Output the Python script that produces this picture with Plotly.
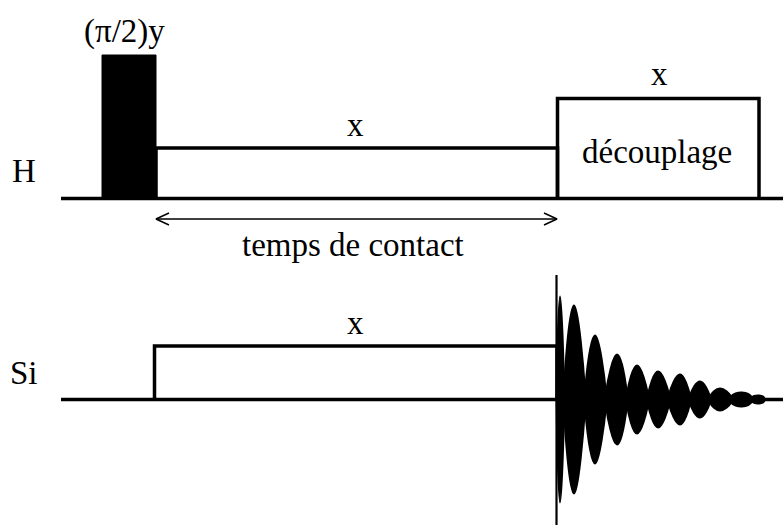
import plotly.graph_objects as go

# ---- diagram data (time axis and amplitude in drawing units) ----
channel_names = ["H", "Si"]
channel_baseline = [198.5, 399.5]
channel_label_x = [24, 24]
channel_label_y = [171, 373]
axis_start = 61
axis_end = 783

# H channel: pi/2 pulse, contact (spin-lock) pulse, decoupling
h_pulse_start = [102, 156, 557.5]
h_pulse_end = [156, 557.5, 759]
h_pulse_top = [55, 148, 98.5]
h_pulse_filled = [True, False, False]
h_pulse_labels = ["(π/2)y", "x", "x"]
h_label_x = [124, 355.5, 659.5]
h_label_y = [31, 124.5, 73.5]
decoupling_text = "découplage"
decoupling_text_xy = [657, 152]

# Si channel: contact pulse then acquisition (FID)
si_pulse_start = [154.5]
si_pulse_end = [557]
si_pulse_top = [346]
si_pulse_labels = ["x"]
si_label_x = [355]
si_label_y = [322.5]

# contact-time arrow
arrow_start = 156
arrow_end = 557
arrow_y = 219
arrow_text = "temps de contact"
arrow_text_xy = [353, 245]

# FID: initial spike and lobe envelope (centre, amplitude), waists between lobes
fid_spike_x = 556.5
fid_spike_top = 275
fid_spike_bottom = 525
fid_lobe_center = [560, 574, 595, 617, 637, 658, 680, 700, 720, 742, 759]
fid_lobe_amp = [103, 94, 64, 45, 34, 28, 25, 18, 11, 7, 4]
fid_waist = [557, 564, 585, 606, 627, 648, 669, 690, 710, 731, 752, 764]
fid_waist_amp = [30, 12, 9, 7, 6, 5, 5, 4, 3, 3, 2, 2]

BLACK = "#000000"
FONT = dict(family="Liberation Serif, Times New Roman, serif", size=33, color=BLACK)
LW = 3.5

fig = go.Figure()


def line(xs, ys, width=LW):
    fig.add_trace(go.Scatter(x=xs, y=ys, mode="lines",
                             line=dict(color=BLACK, width=width),
                             hoverinfo="skip", showlegend=False))


# baselines
for b in channel_baseline:
    line([axis_start, axis_end], [b, b])

# H pulses
hb = channel_baseline[0]
for s, e, t, f in zip(h_pulse_start, h_pulse_end, h_pulse_top, h_pulse_filled):
    if f:
        fig.add_trace(go.Scatter(x=[s, s, e, e, s], y=[hb, t, t, hb, hb], mode="lines",
                                 fill="toself", fillcolor=BLACK,
                                 line=dict(color=BLACK, width=1),
                                 hoverinfo="skip", showlegend=False))
    else:
        line([s, s, e, e], [hb, t, t, hb])

# Si pulses
sb = channel_baseline[1]
for s, e, t in zip(si_pulse_start, si_pulse_end, si_pulse_top):
    line([s, s, e, e], [sb, t, t, sb])

# arrow
line([arrow_start, arrow_end], [arrow_y, arrow_y], width=1.5)
head_len, head_half = 13, 6
line([arrow_start + head_len, arrow_start, arrow_start + head_len],
     [arrow_y - head_half, arrow_y, arrow_y + head_half], width=1.5)
line([arrow_end - head_len, arrow_end, arrow_end - head_len],
     [arrow_y - head_half, arrow_y, arrow_y + head_half], width=1.5)

# FID
line([fid_spike_x, fid_spike_x], [fid_spike_top, fid_spike_bottom], width=2.2)
for i, (c, a) in enumerate(zip(fid_lobe_center, fid_lobe_amp)):
    xl, xr = fid_waist[i], fid_waist[i + 1]
    wl, wr = fid_waist_amp[i], fid_waist_amp[i + 1]
    fig.add_trace(go.Scatter(
        x=[xl, c, xr, xr, c, xl, xl],
        y=[sb - wl, sb - a, sb - wr, sb + wr, sb + a, sb + wl, sb - wl],
        mode="lines", fill="toself", fillcolor=BLACK,
        line=dict(color=BLACK, width=2, shape="spline", smoothing=1.2),
        hoverinfo="skip", showlegend=False))

# texts
ann = []
for name, x, y in zip(channel_names, channel_label_x, channel_label_y):
    ann.append(dict(x=x, y=y, text=name))
for t, x, y in zip(h_pulse_labels, h_label_x, h_label_y):
    ann.append(dict(x=x, y=y, text=t))
for t, x, y in zip(si_pulse_labels, si_label_x, si_label_y):
    ann.append(dict(x=x, y=y, text=t))
ann.append(dict(x=decoupling_text_xy[0], y=decoupling_text_xy[1], text=decoupling_text))
ann.append(dict(x=arrow_text_xy[0], y=arrow_text_xy[1], text=arrow_text))
for a in ann:
    a.update(xref="x", yref="y", showarrow=False, font=FONT,
             xanchor="center", yanchor="middle")

fig.update_layout(
    width=783, height=526,
    margin=dict(l=0, r=0, t=0, b=0),
    paper_bgcolor="white", plot_bgcolor="white",
    xaxis=dict(range=[0, 783], visible=False, fixedrange=True),
    yaxis=dict(range=[526, 0], visible=False, fixedrange=True),
    annotations=ann,
    showlegend=False,
)

fig.write_html("out.html", config=dict(displayModeBar=False, staticPlot=True),
               post_script="document.body.style.margin='0';document.body.style.overflow='hidden';")
